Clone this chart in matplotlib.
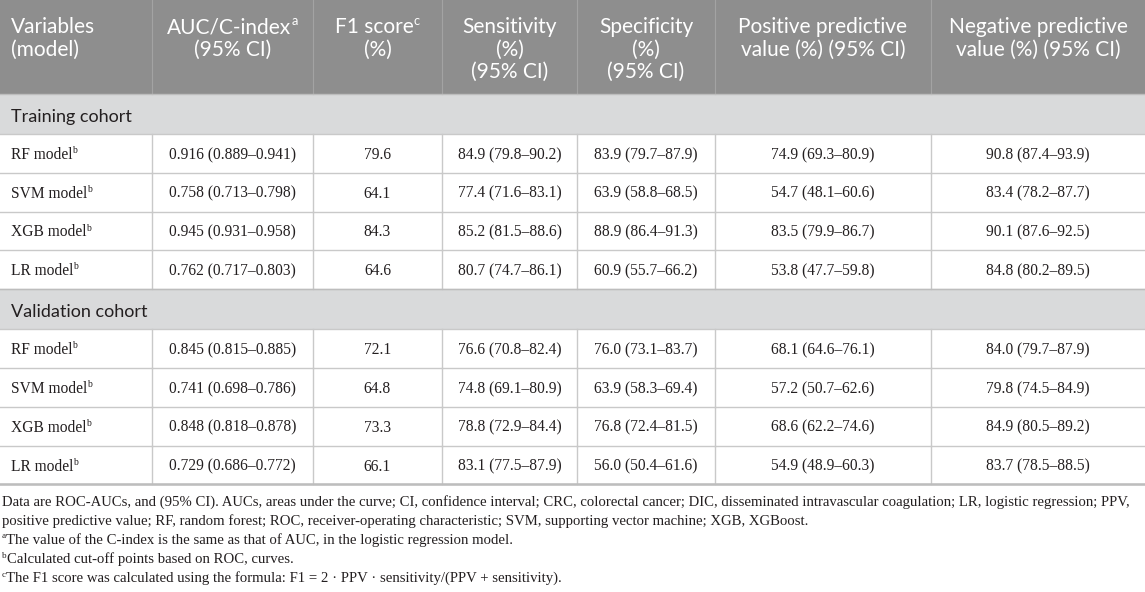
import matplotlib
matplotlib.use("Agg")
import matplotlib.pyplot as plt
from matplotlib.patches import Rectangle

# ── data ───────────────────────────────────────────────────────────────────
HEADERS = [
    ["Variables", "(model)"],
    ["AUC/C-index^a", "(95% CI)"],
    ["F1 score^c", "(%)"],
    ["Sensitivity", "(%)", "(95% CI)"],
    ["Specificity", "(%)", "(95% CI)"],
    ["Positive predictive", "value (%) (95% CI)"],
    ["Negative predictive", "value (%) (95% CI)"],
]
MODELS = ["RF model", "SVM model", "XGB model", "LR model"]
COHORTS = ["Training cohort", "Validation cohort"]

TRAIN_AUC  = [(0.916, 0.889, 0.941), (0.758, 0.713, 0.798), (0.945, 0.931, 0.958), (0.762, 0.717, 0.803)]
TRAIN_F1   = [79.6, 64.1, 84.3, 64.6]
TRAIN_SENS = [(84.9, 79.8, 90.2), (77.4, 71.6, 83.1), (85.2, 81.5, 88.6), (80.7, 74.7, 86.1)]
TRAIN_SPEC = [(83.9, 79.7, 87.9), (63.9, 58.8, 68.5), (88.9, 86.4, 91.3), (60.9, 55.7, 66.2)]
TRAIN_PPV  = [(74.9, 69.3, 80.9), (54.7, 48.1, 60.6), (83.5, 79.9, 86.7), (53.8, 47.7, 59.8)]
TRAIN_NPV  = [(90.8, 87.4, 93.9), (83.4, 78.2, 87.7), (90.1, 87.6, 92.5), (84.8, 80.2, 89.5)]

VALID_AUC  = [(0.845, 0.815, 0.885), (0.741, 0.698, 0.786), (0.848, 0.818, 0.878), (0.729, 0.686, 0.772)]
VALID_F1   = [72.1, 64.8, 73.3, 66.1]
VALID_SENS = [(76.6, 70.8, 82.4), (74.8, 69.1, 80.9), (78.8, 72.9, 84.4), (83.1, 77.5, 87.9)]
VALID_SPEC = [(76.0, 73.1, 83.7), (63.9, 58.3, 69.4), (76.8, 72.4, 81.5), (56.0, 50.4, 61.6)]
VALID_PPV  = [(68.1, 64.6, 76.1), (57.2, 50.7, 62.6), (68.6, 62.2, 74.6), (54.9, 48.9, 60.3)]
VALID_NPV  = [(84.0, 79.7, 87.9), (79.8, 74.5, 84.9), (84.9, 80.5, 89.2), (83.7, 78.5, 88.5)]

FOOTNOTES = [
    "Data are ROC-AUCs, and (95% CI). AUCs, areas under the curve; CI, confidence interval; CRC, colorectal cancer; "
    "DIC, disseminated intravascular coagulation; LR, logistic regression; PPV,",
    "positive predictive value; RF, random forest; ROC, receiver-operating characteristic; SVM, supporting vector "
    "machine; XGB, XGBoost.",
    "^aThe value of the C-index is the same as that of AUC, in the logistic regression model.",
    "^bCalculated cut-off points based on ROC, curves.",
    "^cThe F1 score was calculated using the formula: F1 = 2 \u00b7 PPV \u00b7 sensitivity/(PPV + sensitivity).",
]

# ── layout ────────────────────────────────────────────────────────────────
W, H = 1145, 592
COL_X = [0, 152, 313, 442, 577, 715, 931, 1145]
HEAD_H = 94
SEC_H = 40
ROW_H = 38.8
SANS = "Lato"
SERIF = "Liberation Serif"
HEAD_BG = "#8e8e8e"
SEC_BG = "#d9dadb"
GRID = "#c9c9c9"
TXT = "#231f20"

fig = plt.figure(figsize=(W / 100, H / 100), dpi=100)
ax = fig.add_axes([0, 0, 1, 1])
ax.set_xlim(0, W)
ax.set_ylim(H, 0)
ax.axis("off")
renderer = fig.canvas.get_renderer()


def put(x, y, s, ha="left", family=SERIF, size=11.2, color=TXT):
    """draw text with optional leading/trailing superscript marked by ^"""
    parts = []
    if s.startswith("^"):
        parts.append((s[1], True))
        parts.append((s[2:], False))
    elif "^" in s:
        a, b = s.split("^")
        parts.append((a, False))
        parts.append((b, True))
    else:
        parts.append((s, False))
    objs = []
    total = 0
    for txt, sup in parts:
        fs = size * 0.62 if sup else size
        t = ax.text(0, 0, txt, fontsize=fs, family=family, color=color, va="baseline", ha="left")
        w = t.get_window_extent(renderer).width
        objs.append((t, w, sup))
        total += w
    cx = x - total / 2 if ha == "center" else x
    for t, w, sup in objs:
        dy = -size * 1.389 * 0.38 if sup else 0
        t.set_position((cx, y + dy))
        cx += w


# header
ax.add_patch(Rectangle((0, 0), W, HEAD_H, color=HEAD_BG, lw=0))
for x in COL_X[1:-1]:
    ax.plot([x, x], [0, HEAD_H], color="#a3a3a3", lw=0.8)
for i, lines in enumerate(HEADERS):
    x0, x1 = COL_X[i], COL_X[i + 1]
    for j, line in enumerate(lines):
        yb = 33 + 22.5 * j
        if i == 0:
            put(x0 + 11, yb, line, family=SANS, size=15, color="white")
        else:
            put((x0 + x1) / 2, yb, line, ha="center", family=SANS, size=15, color="white")

# body
train_cols = [TRAIN_AUC, TRAIN_F1, TRAIN_SENS, TRAIN_SPEC, TRAIN_PPV, TRAIN_NPV]
valid_cols = [VALID_AUC, VALID_F1, VALID_SENS, VALID_SPEC, VALID_PPV, VALID_NPV]


def fmt(v, k):
    if k == 0:
        return f"{v[0]:.3f} ({v[1]:.3f}\u2013{v[2]:.3f})"
    if k == 1:
        return f"{v:.1f}"
    return f"{v[0]:.1f} ({v[1]:.1f}\u2013{v[2]:.1f})"


y = HEAD_H
for cohort, cols in zip(COHORTS, [train_cols, valid_cols]):
    ax.add_patch(Rectangle((0, y), W, SEC_H, color=SEC_BG, lw=0))
    ax.plot([0, W], [y, y], color="#bdbdbd", lw=1)
    put(11, y + SEC_H / 2 + 8, cohort, family=SANS, size=13, color=TXT)
    y += SEC_H
    ax.plot([0, W], [y, y], color=GRID, lw=1)
    for r, model in enumerate(MODELS):
        yc = y + ROW_H / 2
        put(11, yc + 5.5, model + "^b")
        for k, col in enumerate(cols):
            x0, x1 = COL_X[k + 1], COL_X[k + 2]
            put((x0 + x1) / 2, yc + 5.5, fmt(col[r], k), ha="center")
        for x in COL_X[1:-1]:
            ax.plot([x, x], [y, y + ROW_H], color=GRID, lw=1)
        y += ROW_H
        ax.plot([0, W], [y, y], color=GRID, lw=1)

ax.plot([0, W], [y, y], color="#bdbdbd", lw=1.8)

# footnotes
for i, line in enumerate(FOOTNOTES):
    put(2, 505.5 + 19.2 * i, line, size=10.6)

fig.savefig("out.png", dpi=100)
